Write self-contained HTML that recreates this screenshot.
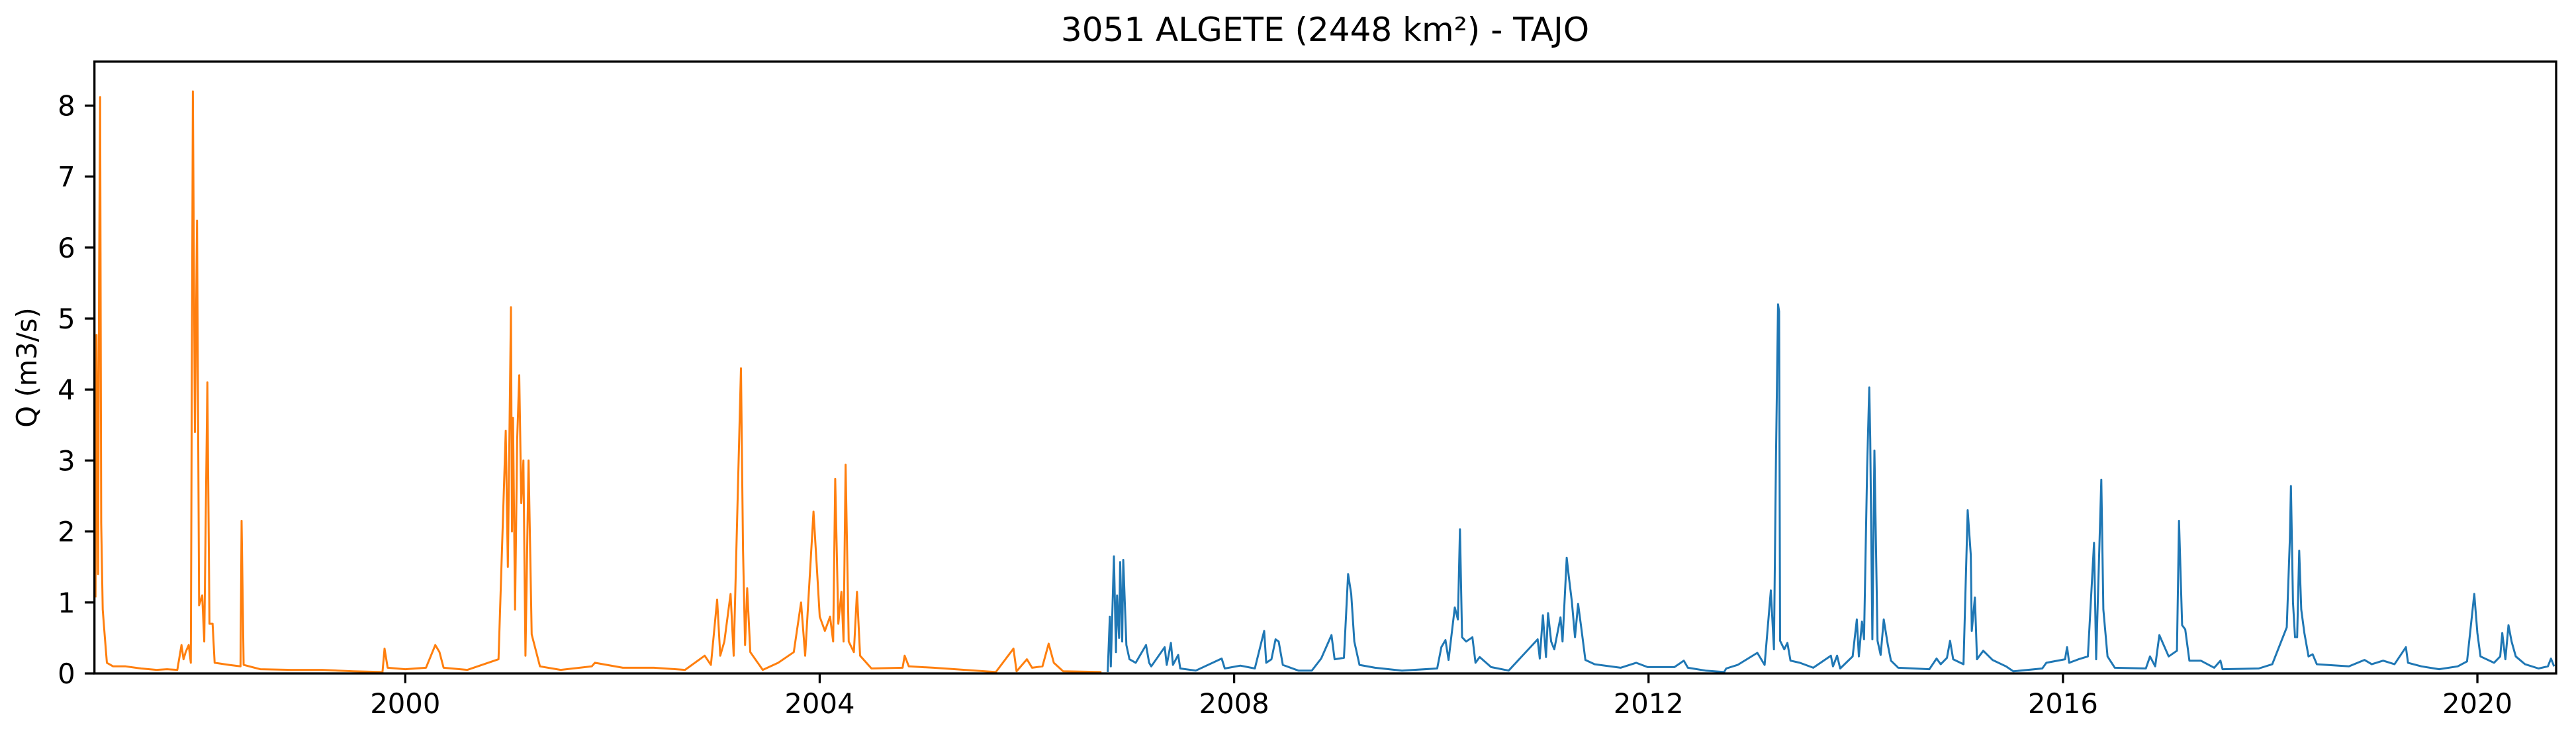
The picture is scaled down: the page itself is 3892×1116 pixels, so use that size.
<!DOCTYPE html>
<html><head><meta charset="utf-8"><style>
html,body{margin:0;padding:0;background:#fff;}
svg{display:block;font-family:"DejaVu Sans","Liberation Sans",sans-serif;}
</style></head><body>
<svg id="chart" width="3892" height="1116" viewBox="0 0 3892 1116" xmlns="http://www.w3.org/2000/svg">
<rect x="0" y="0" width="3892" height="1116" fill="#fff"/>
<text x="2002" y="62" font-size="50" text-anchor="middle" fill="#000">3051 ALGETE (2448 km²) - TAJO</text>
<text transform="translate(55,555) rotate(-90)" font-size="41.7" text-anchor="middle" fill="#000">Q (m3/s)</text>
<g id="plot"></g>
<g id="axes"></g>
</svg>
<script>
const xTickYears = [2000, 2004, 2008, 2012, 2016, 2020];
const xTickLabels = ["2000", "2004", "2008", "2012", "2016", "2020"];
const yTickValues = [0, 1, 2, 3, 4, 5, 6, 7, 8];
const yTickLabels = ["0", "1", "2", "3", "4", "5", "6", "7", "8"];
const orangeT = [1997.01,1997.02,1997.035,1997.045,1997.055,1997.065,1997.08,1997.1,1997.12,1997.18,1997.3,1997.45,1997.6,1997.7,1997.8,1997.84,1997.86,1997.88,1997.91,1997.93,1997.95,1997.97,1997.99,1998.01,1998.04,1998.06,1998.09,1998.11,1998.14,1998.16,1998.3,1998.41,1998.42,1998.44,1998.6,1998.9,1999.2,1999.5,1999.78,1999.8,1999.83,2000.0,2000.2,2000.29,2000.33,2000.37,2000.6,2000.9,2000.97,2000.99,2001.02,2001.03,2001.04,2001.06,2001.08,2001.10,2001.12,2001.14,2001.16,2001.19,2001.22,2001.3,2001.5,2001.8,2001.83,2002.1,2002.4,2002.7,2002.89,2002.95,2003.01,2003.04,2003.08,2003.14,2003.17,2003.24,2003.26,2003.28,2003.3,2003.33,2003.45,2003.6,2003.75,2003.82,2003.86,2003.94,2003.97,2004.0,2004.05,2004.1,2004.13,2004.15,2004.18,2004.21,2004.23,2004.25,2004.28,2004.33,2004.36,2004.39,2004.5,2004.8,2004.82,2004.86,2005.1,2005.4,2005.7,2005.87,2005.9,2006.0,2006.05,2006.15,2006.21,2006.26,2006.35,2006.72];
const orangeV = [1.07,4.77,1.4,5.55,8.12,2.12,0.9,0.51,0.15,0.1,0.1,0.07,0.05,0.06,0.05,0.4,0.2,0.3,0.4,0.15,8.2,3.4,6.38,0.96,1.1,0.45,4.1,0.7,0.7,0.15,0.12,0.1,2.15,0.12,0.06,0.05,0.05,0.03,0.02,0.35,0.08,0.06,0.08,0.4,0.3,0.08,0.05,0.2,3.42,1.5,5.16,2.0,3.6,0.9,3.3,4.2,2.4,3.0,0.25,3.0,0.55,0.1,0.05,0.1,0.15,0.08,0.08,0.05,0.25,0.12,1.04,0.25,0.45,1.12,0.25,4.3,1.75,0.4,1.2,0.3,0.05,0.15,0.3,1.0,0.25,2.28,1.55,0.8,0.6,0.8,0.45,2.74,0.7,1.15,0.45,2.94,0.45,0.3,1.15,0.25,0.07,0.08,0.25,0.1,0.08,0.05,0.02,0.35,0.03,0.2,0.08,0.1,0.42,0.15,0.03,0.02];
const blueT = [2006.78,2006.8,2006.81,2006.84,2006.86,2006.87,2006.89,2006.9,2006.92,2006.93,2006.96,2006.99,2007.05,2007.15,2007.18,2007.2,2007.33,2007.35,2007.39,2007.41,2007.46,2007.48,2007.63,2007.88,2007.91,2008.06,2008.2,2008.29,2008.31,2008.36,2008.40,2008.43,2008.47,2008.62,2008.75,2008.84,2008.94,2008.97,2009.06,2009.10,2009.13,2009.16,2009.21,2009.36,2009.62,2009.96,2010.00,2010.04,2010.07,2010.13,2010.16,2010.18,2010.2,2010.24,2010.30,2010.33,2010.37,2010.48,2010.65,2010.93,2010.95,2010.98,2011.01,2011.03,2011.06,2011.09,2011.15,2011.17,2011.21,2011.23,2011.26,2011.29,2011.32,2011.35,2011.39,2011.48,2011.73,2011.88,2011.99,2012.25,2012.34,2012.38,2012.55,2012.73,2012.75,2012.86,2013.05,2013.12,2013.18,2013.21,2013.23,2013.25,2013.26,2013.27,2013.31,2013.34,2013.37,2013.46,2013.59,2013.76,2013.78,2013.82,2013.85,2013.97,2014.01,2014.03,2014.06,2014.08,2014.11,2014.13,2014.14,2014.16,2014.18,2014.21,2014.24,2014.27,2014.31,2014.34,2014.41,2014.71,2014.78,2014.82,2014.88,2014.91,2014.94,2015.04,2015.08,2015.11,2015.12,2015.15,2015.17,2015.23,2015.32,2015.45,2015.52,2015.80,2015.84,2016.02,2016.04,2016.06,2016.15,2016.24,2016.30,2016.32,2016.37,2016.39,2016.43,2016.50,2016.80,2016.84,2016.89,2016.93,2017.02,2017.10,2017.12,2017.15,2017.18,2017.22,2017.33,2017.46,2017.52,2017.54,2017.89,2018.02,2018.16,2018.19,2018.20,2018.22,2018.24,2018.26,2018.28,2018.30,2018.33,2018.37,2018.41,2018.45,2018.76,2018.91,2018.98,2019.09,2019.20,2019.31,2019.33,2019.46,2019.63,2019.81,2019.90,2019.97,2020.00,2020.03,2020.16,2020.22,2020.24,2020.27,2020.30,2020.33,2020.37,2020.46,2020.59,2020.68,2020.71,2020.74];
const blueV = [0.02,0.8,0.1,1.65,0.3,1.1,0.5,1.57,0.45,1.6,0.4,0.2,0.15,0.4,0.15,0.1,0.37,0.12,0.43,0.12,0.26,0.07,0.04,0.21,0.07,0.11,0.07,0.6,0.15,0.2,0.48,0.45,0.12,0.04,0.04,0.21,0.54,0.2,0.22,1.4,1.12,0.45,0.12,0.08,0.04,0.07,0.37,0.47,0.19,0.93,0.76,2.03,0.51,0.45,0.51,0.15,0.23,0.09,0.04,0.48,0.21,0.82,0.23,0.85,0.45,0.34,0.79,0.45,1.63,1.37,1.01,0.51,0.98,0.65,0.19,0.13,0.08,0.15,0.09,0.09,0.18,0.08,0.04,0.02,0.07,0.12,0.29,0.12,1.17,0.34,3.06,5.2,5.1,0.46,0.34,0.43,0.18,0.15,0.08,0.25,0.1,0.25,0.07,0.24,0.76,0.24,0.73,0.48,2.89,4.03,3.3,0.48,3.14,0.46,0.26,0.76,0.4,0.18,0.08,0.06,0.21,0.13,0.22,0.46,0.2,0.13,2.3,1.67,0.6,1.07,0.2,0.32,0.19,0.1,0.03,0.07,0.15,0.2,0.37,0.15,0.2,0.24,1.84,0.2,2.73,0.9,0.24,0.08,0.07,0.24,0.1,0.54,0.24,0.32,2.15,0.68,0.62,0.18,0.18,0.08,0.18,0.06,0.07,0.13,0.65,1.9,2.64,1.0,0.51,0.51,1.73,0.9,0.57,0.24,0.27,0.13,0.1,0.19,0.13,0.18,0.13,0.37,0.15,0.1,0.06,0.1,0.17,1.12,0.57,0.24,0.15,0.24,0.57,0.2,0.68,0.45,0.24,0.13,0.07,0.1,0.21,0.1];

const X0 = 142.7, X1 = 3862, Y0 = 1017, Y1 = 93;
const tMin = 1997.0, tMax = 2020.76, vMin = 0, vMax = 8.62;
function xScale(t){ return X0 + (t - tMin) / (tMax - tMin) * (X1 - X0); }
function yScale(v){ return Y0 - (v - vMin) / (vMax - vMin) * (Y0 - Y1); }
const NS = "http://www.w3.org/2000/svg";
const plot = document.getElementById('plot');
const axes = document.getElementById('axes');

function addSeries(ts, vs, color, name){
  let d = "";
  for (let i = 0; i < ts.length; i++){
    d += (i ? "L" : "M") + xScale(ts[i]).toFixed(1) + "," + yScale(vs[i]).toFixed(1);
  }
  const p = document.createElementNS(NS, 'path');
  p.setAttribute('d', d);
  p.setAttribute('fill', 'none');
  p.setAttribute('stroke', color);
  p.setAttribute('stroke-width', '3');
  p.setAttribute('stroke-linejoin', 'round');
  
  
  plot.appendChild(p);
}
addSeries(orangeT, orangeV, '#ff7f0e', 'series-orange');
addSeries(blueT, blueV, '#1f77b4', 'series-blue');

const frame = document.createElementNS(NS, 'rect');
frame.setAttribute('x', X0); frame.setAttribute('y', Y1);
frame.setAttribute('width', X1 - X0); frame.setAttribute('height', Y0 - Y1);
frame.setAttribute('fill', 'none'); frame.setAttribute('stroke', '#000'); frame.setAttribute('stroke-width', '3.3');


axes.appendChild(frame);

yTickValues.forEach((v, i) => {
  const y = yScale(v);
  const l = document.createElementNS(NS, 'line');
  l.setAttribute('x1', X0 - 14.6); l.setAttribute('x2', X0); l.setAttribute('y1', y); l.setAttribute('y2', y);
  l.setAttribute('stroke', '#000'); l.setAttribute('stroke-width', '3.3');
  
  
  axes.appendChild(l);
  const t = document.createElementNS(NS, 'text');
  t.setAttribute('x', X0 - 29); t.setAttribute('y', y + 15);
  t.setAttribute('font-size', '41.7'); t.setAttribute('text-anchor', 'end');
  t.textContent = yTickLabels[i];
  
  
  axes.appendChild(t);
});
xTickYears.forEach((yr, i) => {
  const x = xScale(yr);
  const l = document.createElementNS(NS, 'line');
  l.setAttribute('x1', x); l.setAttribute('x2', x); l.setAttribute('y1', Y0); l.setAttribute('y2', Y0 + 14.6);
  l.setAttribute('stroke', '#000'); l.setAttribute('stroke-width', '3.3');
  
  
  axes.appendChild(l);
  const t = document.createElementNS(NS, 'text');
  t.setAttribute('x', x); t.setAttribute('y', 1077);
  t.setAttribute('font-size', '41.7'); t.setAttribute('text-anchor', 'middle');
  t.textContent = xTickLabels[i];
  
  
  axes.appendChild(t);
});
</script>
</body></html>
